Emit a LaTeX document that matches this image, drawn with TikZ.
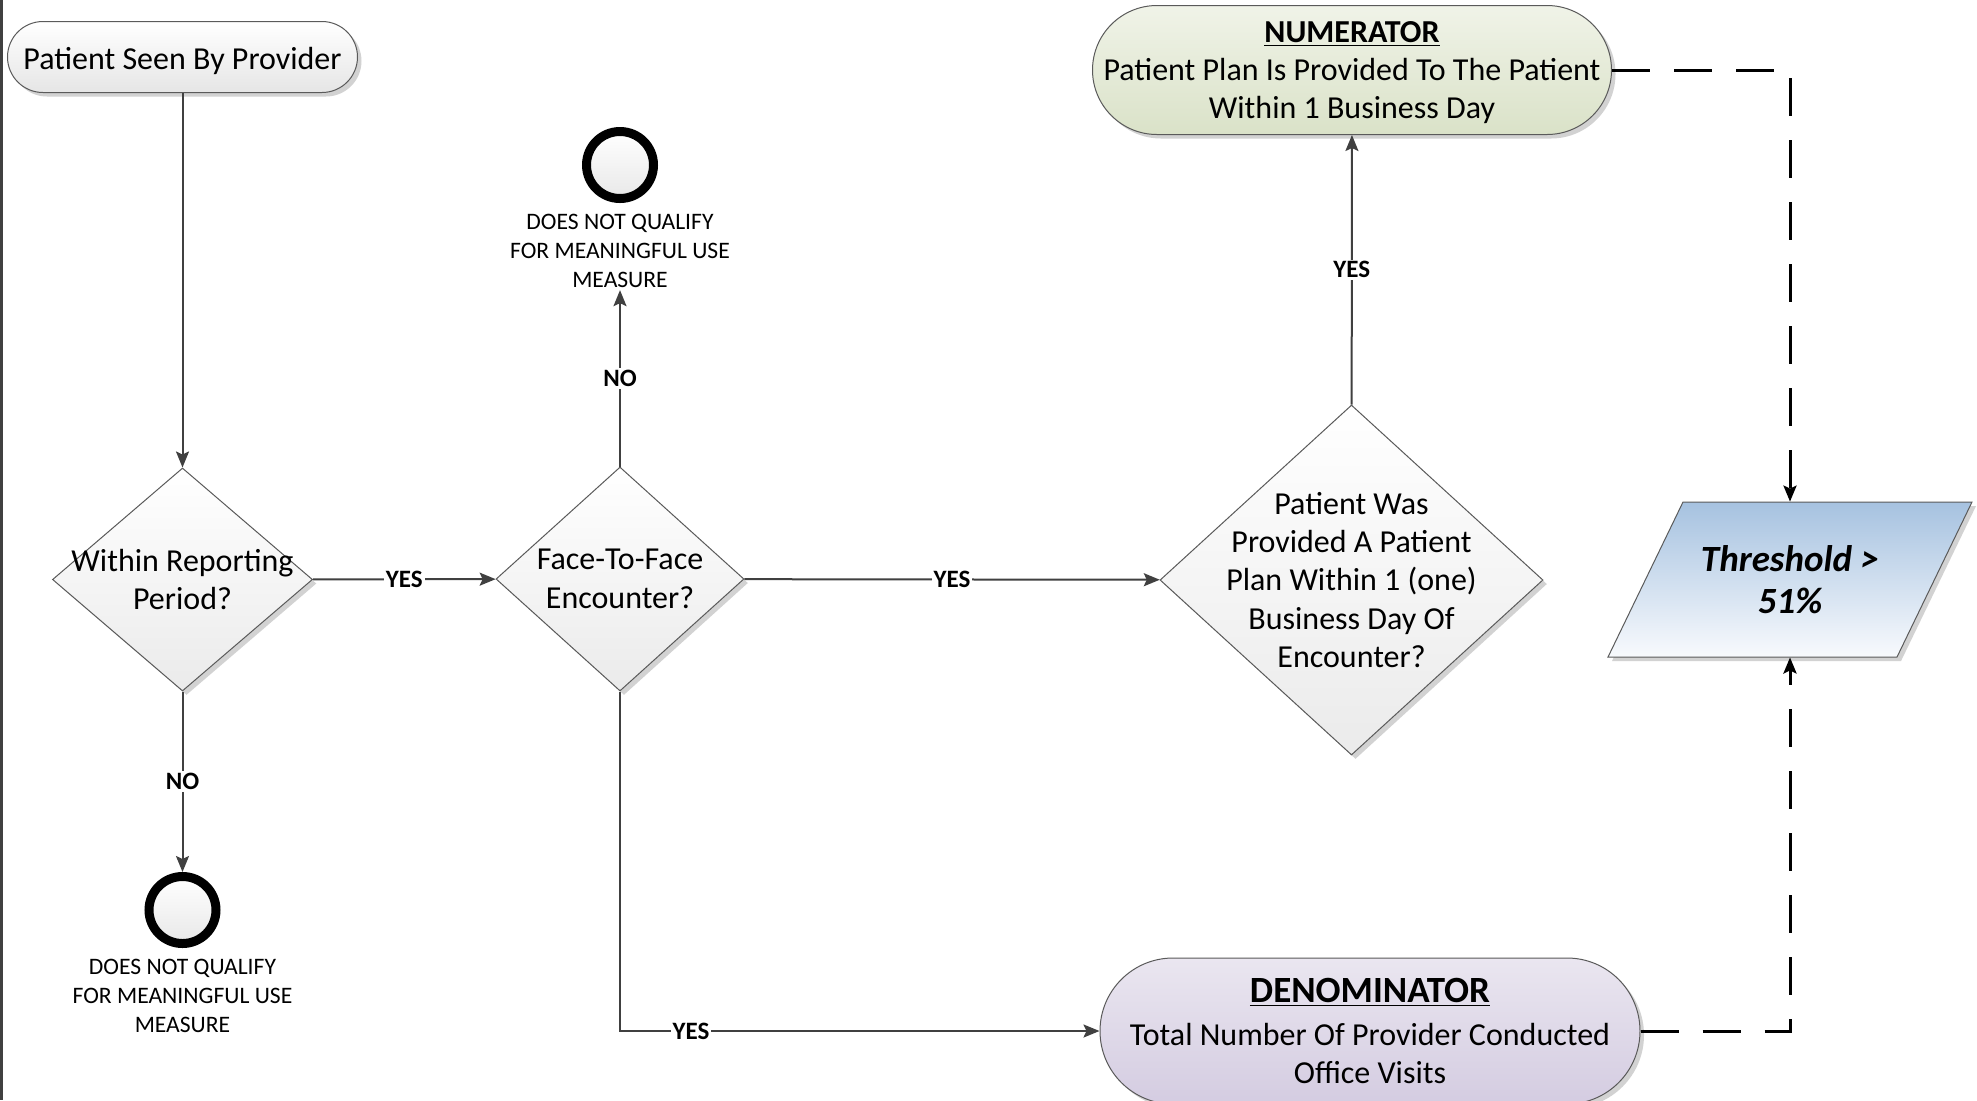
\documentclass[tikz,border=0pt]{standalone}
\usepackage{fontspec}
\setmainfont{Carlito}
\usetikzlibrary{shapes.geometric,shapes.misc,arrows.meta,shadows}
\definecolor{linegray}{HTML}{404040}
\definecolor{edgegray}{HTML}{5A5A5A}
\definecolor{numtop}{HTML}{F0F3E8}
\definecolor{numbot}{HTML}{DAE2C8}
\definecolor{dentop}{HTML}{EAE6F0}
\definecolor{denbot}{HTML}{D4CCE1}
\definecolor{thrtop}{HTML}{A6C2E0}
\definecolor{thrbot}{HTML}{F8FAFD}
\begin{document}
\begin{tikzpicture}[x=0.5pt,y=-0.5pt,
  shd/.style={drop shadow={shadow xshift=2pt,shadow yshift=-2pt,opacity=0.25,fill=black!70}},
  term/.style={rounded rectangle, draw=edgegray, line width=0.5pt, inner sep=0pt, shd},
  dec/.style={diamond, draw=edgegray, line width=0.5pt, inner sep=0pt, top color=white, bottom color=black!8, shd},
  txt/.style={align=center, inner sep=0pt, font=\fontsize{16}{19.2}\selectfont},
  small/.style={align=center, inner sep=1pt, font=\fontsize{11.8}{14.5}\selectfont},
  lbl/.style={fill=white, inner sep=1pt, font=\fontsize{12.5}{13}\selectfont\bfseries},
  endc/.style={circle, draw=black, line width=4.5pt, minimum size=33.5pt, inner sep=0pt, top color=white, bottom color=black!9},
  flow/.style={draw=linegray, line width=1pt, -{Stealth[length=8pt,width=6.5pt,inset=1.5pt]}},
  dflow/.style={draw=black, line width=1.5pt, dash pattern=on 19pt off 12pt, -{Stealth[length=8pt,width=6.5pt,inset=1.5pt]}},
]
\useasboundingbox (0,0) rectangle (1977,1100);
\clip (0,0) rectangle (1977,1100);
\fill[white] (0,0) rectangle (1977,1100);
\draw[line width=1.5pt, black!75] (1.5,0) -- (1.5,1100);

% start
\node[term, minimum width=175pt, minimum height=35.5pt, top color=white, bottom color=black!10] (start) at (182.5,57) {};
\node[txt] (starttxt) at (182.5,61) {Patient Seen By Provider};

% decisions
\node[dec, minimum width=130pt, minimum height=111.5pt] (d1) at (182.5,579.5) {};
\node[txt] (d1txt) at (d1) {Within Reporting\\Period?};
\node[dec, minimum width=124pt, minimum height=112pt] (d2) at (620,579) {};
\node[txt] (d2txt) at (d2) {Face-To-Face\\Encounter?};
\node[dec, minimum width=191.5pt, minimum height=175pt] (d3) at (1351.5,580) {};
\node[txt] (d3txt) at (d3) {Patient Was\\Provided A Patient\\Plan Within 1 (one)\\Business Day Of\\Encounter?};

% end circles
\node[endc] (c1) at (620,165) {};
\node[small] (c1txt) at (620,251) {DOES NOT QUALIFY\\FOR MEANINGFUL USE\\MEASURE};
\node[endc] (c2) at (182.5,910) {};
\node[small] (c2txt) at (182.5,996) {DOES NOT QUALIFY\\FOR MEANINGFUL USE\\MEASURE};

% numerator
\node[term, minimum width=259.5pt, minimum height=64.5pt, top color=numtop, bottom color=numbot] (num) at (1352,70) {};
\node[txt] (numtxt) at (1352,72.5) {\textbf{\underline{NUMERATOR}}\\Patient Plan Is Provided To The Patient\\Within 1 Business Day};

% denominator
\node[term, minimum width=270pt, minimum height=73pt, top color=dentop, bottom color=denbot] (den) at (1370,1031) {};
\node[txt] (dentxt) at (1370,1031) {{\fontsize{18.5}{19.2}\selectfont\textbf{\underline{DENOMINATOR}}}\\[2pt]Total Number Of Provider Conducted\\Office Visits};

% threshold
\path[draw=edgegray, line width=0.5pt, top color=thrtop, bottom color=thrbot, shd]
  (1608,657) -- (1683,502) -- (1972,502) -- (1897,657) -- cycle;
\node[inner sep=0pt, minimum width=144pt, minimum height=77.5pt, align=center,
  font=\fontsize{18.5}{21}\selectfont\bfseries\itshape] (thr) at (1790,579.5) {Threshold >\\51\%};

% connectors
\draw[flow] (start) -- (d1);
\draw[flow] (d1) -- node[lbl]{YES} (d2);
\draw[flow] (d1) -- node[lbl]{NO} (c2);
\draw[flow] (d2) -- node[lbl]{NO} (c1txt);
\draw[flow] (d2) -- node[lbl]{YES} (d3);
\draw[flow] (d3) -- node[lbl]{YES} (num);
\draw[flow] (d2) |- node[lbl, pos=0.574]{YES} (den);
\draw[dflow] (num.east) -| (thr.north);
\draw[dflow] (den.east) -| (thr.south);
\end{tikzpicture}
\end{document}
